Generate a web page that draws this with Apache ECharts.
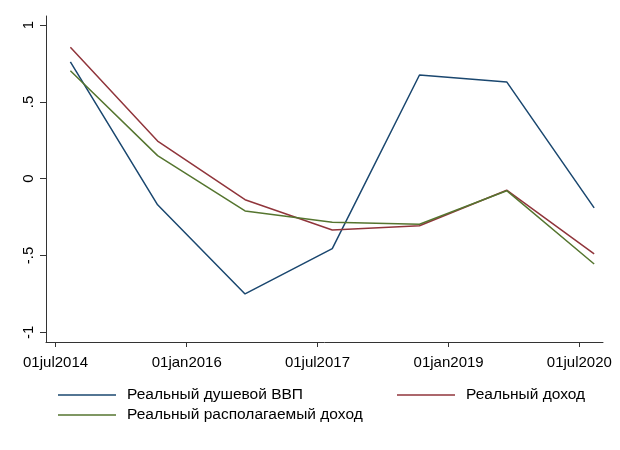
<!DOCTYPE html>
<html lang="ru">
<head>
<meta charset="UTF-8">
<title>Реальные доходы и ВВП</title>
<script src="https://cdn.jsdelivr.net/npm/echarts@6.0.0/dist/echarts.min.js"></script>
<style>
  html, body { margin: 0; padding: 0; background: #fff; }
</style>
</head>
<body>
<div id="chart" style="width:620px;height:450px;"></div>
<script>
// data
const dates = ['2014-09-01', '2015-09-01', '2016-09-01', '2017-09-01', '2018-09-01', '2019-09-01', '2020-09-01'];
const gdp = [0.76, -0.17, -0.75, -0.455, 0.675, 0.63, -0.19];
const income = [0.855, 0.245, -0.137, -0.334, -0.306, -0.075, -0.49];
const dispIncome = [0.703, 0.15, -0.21, -0.284, -0.297, -0.078, -0.555];

const xTicks = ['2014-07-01', '2016-01-01', '2017-07-01', '2019-01-01', '2020-07-01'];
const yTicks = [-1, -0.5, 0, 0.5, 1];
const yTickLabels = ['-1', '-.5', '0', '.5', '1'];

const names = ['Реальный душевой ВВП', 'Реальный доход', 'Реальный располагаемый доход'];
const colors = ['#1a476f', '#90353b', '#55752f'];
const months = ['jan','feb','mar','apr','may','jun','jul','aug','sep','oct','nov','dec'];

// dates as day numbers (UTC), so the x axis can be a plain value axis
function day(s) {
    let p = s.split('-');
    return Date.UTC(+p[0], +p[1] - 1, +p[2]) / 86400000;
}
function pairs(vals) {
    return dates.map((d, i) => [day(d), vals[i]]);
}

let chart = echarts.init(document.getElementById('chart'));
const font = 'Arial, "Liberation Sans", sans-serif';
const xTickDays = xTicks.map(day);

let legendText = { color: '#000', fontSize: 15.5, fontFamily: font, lineHeight: 20, padding: [0, 0, 0, 6] };

let option = {
    backgroundColor: '#fff',
    animation: false,
    textStyle: { fontFamily: font },
    grid: { left: 46, right: 17, top: 16, bottom: 108 },
    xAxis: {
        type: 'value',
        min: day('2014-05-22'),
        max: day('2020-10-08'),
        splitLine: { show: false },
        axisLine: { onZero: false, lineStyle: { color: '#333', width: 1 } },
        axisTick: {
            show: true, length: 5,
            customValues: xTickDays,
            lineStyle: { color: '#333' }
        },
        axisLabel: {
            customValues: xTickDays,
            color: '#000', fontSize: 15, fontFamily: font, margin: 13,
            formatter: function (v) {
                let d = new Date(v * 86400000);
                let dd = ('0' + d.getUTCDate()).slice(-2);
                return dd + months[d.getUTCMonth()] + d.getUTCFullYear();
            }
        }
    },
    yAxis: {
        type: 'value',
        min: -1.063,
        max: 1.059,
        splitLine: { show: false },
        axisLine: { show: true, onZero: false, lineStyle: { color: '#333', width: 1 } },
        axisTick: {
            show: true, length: 6,
            customValues: yTicks,
            lineStyle: { color: '#333' }
        },
        axisLabel: {
            customValues: yTicks,
            rotate: 90,
            color: '#000', fontSize: 15, fontFamily: font, margin: 10,
            formatter: function (v) {
                let i = yTicks.indexOf(v);
                return i >= 0 ? yTickLabels[i] : '';
            }
        }
    },
    legend: [
        {
            data: [names[0], names[2]],
            orient: 'vertical',
            left: 53, top: 380,
            icon: 'rect', itemWidth: 58, itemHeight: 1.5, itemGap: 0,
            textStyle: legendText
        },
        {
            data: [names[1]],
            orient: 'vertical',
            left: 392, top: 380,
            icon: 'rect', itemWidth: 58, itemHeight: 1.5, itemGap: 0,
            textStyle: legendText
        }
    ],
    series: [
        { name: names[0], type: 'line', data: pairs(gdp), symbol: 'none', color: colors[0], lineStyle: { width: 1.5 } },
        { name: names[1], type: 'line', data: pairs(income), symbol: 'none', color: colors[1], lineStyle: { width: 1.5 } },
        { name: names[2], type: 'line', data: pairs(dispIncome), symbol: 'none', color: colors[2], lineStyle: { width: 1.5 } }
    ]
};

chart.setOption(option);
</script>
</body>
</html>
